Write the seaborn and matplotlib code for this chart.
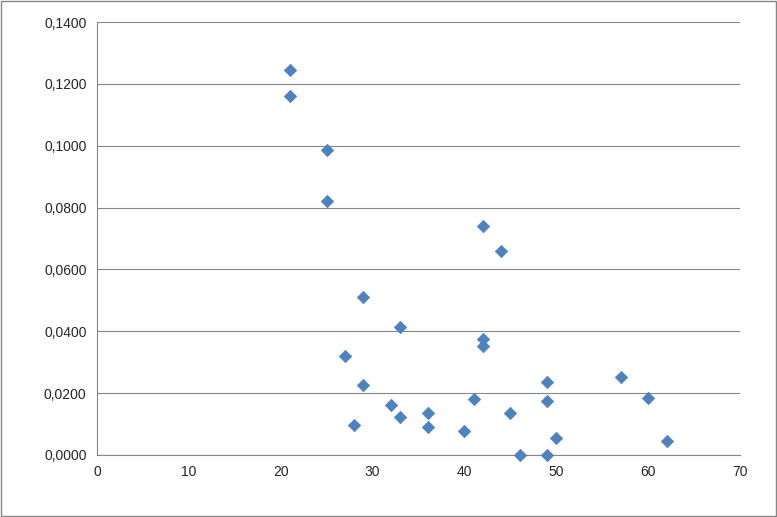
import matplotlib
matplotlib.use("Agg")
import matplotlib.pyplot as plt
import seaborn as sns
from matplotlib.ticker import FuncFormatter
from matplotlib.patches import Rectangle

x_vals = [21, 21, 25, 25, 42, 44, 29, 33, 42, 42, 27, 29, 49, 57, 60, 41, 49, 32, 36, 45, 33, 28, 36, 40, 50, 62, 46, 49]
y_vals = [0.1245, 0.1161, 0.0986, 0.0821, 0.0740, 0.0660, 0.0511, 0.0414, 0.0375, 0.0352, 0.0320, 0.0226,
          0.0236, 0.0252, 0.0184, 0.0181, 0.0175, 0.0162, 0.0136, 0.0136, 0.0123, 0.0097, 0.0091, 0.0078,
          0.0055, 0.0045, 0.0, 0.0]

sns.set_style("white")
plt.rcParams['font.family'] = ['Liberation Sans', 'DejaVu Sans']
fig = plt.figure(figsize=(7.77, 5.17), dpi=100)
ax = fig.add_axes([97/777, 1-455/517, (740-97)/777, (455-22)/517])
sns.scatterplot(x=x_vals, y=y_vals, ax=ax, marker='D', s=40, color='#4F81BD', edgecolor='#4F81BD', clip_on=False, zorder=3)
ax.set_xlim(0, 70)
ax.set_ylim(0, 0.14)
ax.set_xticks(range(0, 71, 10))
ax.set_yticks([i*0.02 for i in range(8)])
ax.yaxis.set_major_formatter(FuncFormatter(lambda v, p: f"{v:.4f}".replace('.', ',')))
ax.grid(axis='y', color='#868686', linewidth=0.8)
ax.set_axisbelow(True)
for s in ['top', 'right']:
    ax.spines[s].set_visible(False)
for s in ['left', 'bottom']:
    ax.spines[s].set_color('#868686')
ax.tick_params(axis='x', direction='out', length=4, color='#868686', labelsize=10)
ax.tick_params(axis='y', direction='out', length=4, color='#868686', labelsize=10)
fig.patches.append(Rectangle((1/777, 1/517), 775/777, 515/517, transform=fig.transFigure,
                             fill=False, edgecolor='#868686', linewidth=1))
fig.savefig("out.png", dpi=100)
